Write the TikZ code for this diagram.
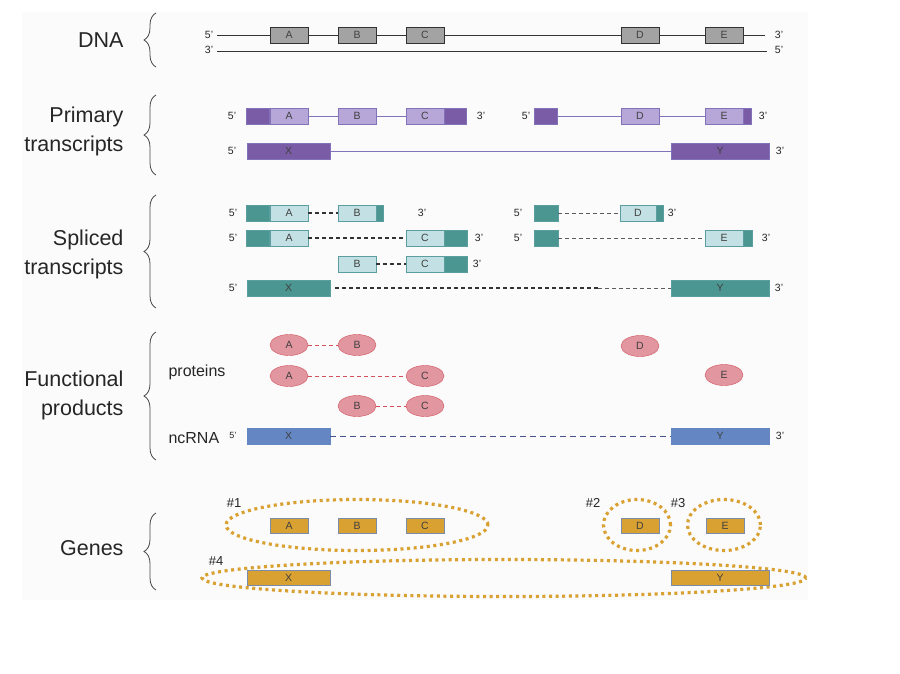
\documentclass[tikz,border=0pt]{standalone}
\usepackage{fontspec}
\setmainfont{Liberation Sans}
\usetikzlibrary{positioning,shapes.geometric,decorations.pathreplacing}
\definecolor{paper}{HTML}{FBFBFB}
\definecolor{labeltext}{HTML}{262626}
\definecolor{boxtext}{HTML}{404040}
\definecolor{dnagray}{HTML}{A3A3A3}
\definecolor{dnaline}{HTML}{333333}
\definecolor{purpledark}{HTML}{7A5CA6}
\definecolor{purplelight}{HTML}{B6A7D8}
\definecolor{purpleedge}{HTML}{8272BA}
\definecolor{tealdark}{HTML}{4B9691}
\definecolor{teallight}{HTML}{C3E1E4}
\definecolor{tealedge}{HTML}{5A9EA0}
\definecolor{protfill}{HTML}{E196A0}
\definecolor{protedge}{HTML}{D2505A}
\definecolor{ncblue}{HTML}{6487C3}
\definecolor{ncdash}{HTML}{46528C}
\definecolor{geneorange}{HTML}{D9A032}
\definecolor{geneedge}{HTML}{7A8CAA}
\begin{document}
\begin{tikzpicture}[x=1pt,y=-1pt,
    box/.style={draw,rectangle,minimum width=38pt,minimum height=16pt,inner sep=0pt,
      font=\fontsize{10.5}{10.5}\selectfont,text=boxtext},
    dnabox/.style={box,fill=dnagray,draw=dnaline,line width=0.9pt},
    plight/.style={box,fill=purplelight,draw=purpleedge},
    pdark/.style={box,fill=purpledark,draw=purpleedge},
    tlight/.style={box,fill=teallight,draw=tealedge},
    tdark/.style={box,fill=tealdark,draw=tealedge},
    prot/.style={ellipse,draw=protedge,fill=protfill,minimum width=38pt,minimum height=21pt,
      inner sep=0pt,font=\fontsize{10.5}{10.5}\selectfont,text=boxtext},
    ncbox/.style={box,fill=ncblue,draw=ncblue},
    genebox/.style={box,fill=geneorange,draw=geneedge,minimum height=15pt},
    ring/.style={ellipse,draw=geneorange,line width=3.2pt,dash pattern=on 3pt off 3.6pt,inner sep=0pt},
    prime/.style={font=\fontsize{10.5}{10.5}\selectfont,text=labeltext},
    heading/.style={anchor=east,align=right,font=\fontsize{21.5}{29}\selectfont,text=labeltext},
    sub/.style={anchor=west,font=\fontsize{16}{16}\selectfont,text=labeltext},
    tag/.style={font=\fontsize{13}{13}\selectfont,text=labeltext},
    curly/.style={draw=dnaline!90,line width=0.8pt,decorate,decoration={brace,amplitude=12pt}},
    thin/.style={line width=0.6pt},
    splice/.style={draw=dnaline,line width=1.1pt,dash pattern=on 4pt off 3pt},
    splicethin/.style={draw=dnaline!80,line width=0.6pt,dash pattern=on 4pt off 3pt}]
  \useasboundingbox (0,0) rectangle (900,673);
  \fill[paper] (22,12) rectangle (808,600);

  % row headings and braces
  \node[heading] (hdna) at (127,40) {DNA};
  \node[heading] (hpri) at (127,131) {Primary\\transcripts};
  \node[heading] (hspl) at (127,254) {Spliced\\transcripts};
  \node[heading] (hfun) at (127,395) {Functional\\products};
  \node[heading] (hgen) at (127,548) {Genes};
  \draw[curly] (156,67) -- (156,13);
  \draw[curly] (156,175) -- (156,95);
  \draw[curly] (156,308) -- (156,195);
  \draw[curly] (156,460) -- (156,332);
  \draw[curly] (156,590) -- (156,513);

  % DNA
  \coordinate (d5) at (217,35);
  \coordinate (d3) at (765,35);
  \coordinate (b3) at (217,51);
  \coordinate (b5) at (767,51);
  \foreach \n/\x in {A/289,B/357,C/425,D/640,E/724}
    \node[dnabox] (dna\n) at (\x,35) {\n};
  \draw[dnaline,thin] (d5) -- (dnaA) -- (dnaB) -- (dnaC) -- (dnaD) -- (dnaE) -- (d3);
  \draw[dnaline,thin] (b3) -- (b5);
  \node[prime] (l1) at (209,35) {5'};
  \node[prime] (l2) at (209,50) {3'};
  \node[prime] (l3) at (779,35) {3'};
  \node[prime] (l4) at (779,50) {5'};

  % primary transcripts
  \node[plight] (pA) at (289,116) {A};
  \node[pdark,anchor=east,minimum width=23pt] (pA5) at (pA.west) {};
  \node[plight] (pB) at (357,116) {B};
  \node[plight] (pC) at (425,116) {C};
  \node[pdark,anchor=west,minimum width=22pt] (pC3) at (pC.east) {};
  \node[pdark,minimum width=23pt] (pR5) at (546,116) {};
  \node[plight] (pD) at (640,116) {D};
  \node[plight] (pE) at (724,116) {E};
  \node[pdark,anchor=west,minimum width=8pt] (pE3) at (pE.east) {};
  \draw[purpleedge,thin] (pA) -- (pB) -- (pC);
  \draw[purpleedge,thin] (pR5) -- (pD) -- (pE);
  \node[pdark,minimum width=83pt] (pX) at (288.5,151) {X};
  \node[pdark,minimum width=98pt] (pY) at (720,151) {Y};
  \draw[purpleedge,line width=0.9pt] (pX) -- (pY);
  \node[prime] (l5) at (232,116) {5'};
  \node[prime] (l6) at (481,116) {3'};
  \node[prime] (l7) at (526,116) {5'};
  \node[prime] (l8) at (763,116) {3'};
  \node[prime] (l9) at (232,151) {5'};
  \node[prime] (l10) at (780,151) {3'};

  % spliced transcripts
  \node[tlight] (sA1) at (289,213) {A};
  \node[tdark,anchor=east,minimum width=23pt] (sA15) at (sA1.west) {};
  \node[tlight] (sB1) at (357,213) {B};
  \node[tdark,anchor=west,minimum width=7pt] (sB13) at (sB1.east) {};
  \draw[splice] (sA1) -- (sB1);
  \node[tlight] (sA2) at (289,238) {A};
  \node[tdark,anchor=east,minimum width=23pt] (sA25) at (sA2.west) {};
  \node[tlight] (sC2) at (425,238) {C};
  \node[tdark,anchor=west,minimum width=23pt] (sC23) at (sC2.east) {};
  \draw[splice] (sA2) -- (sC2);
  \node[tlight] (sB3) at (357,264) {B};
  \node[tlight] (sC3) at (425,264) {C};
  \node[tdark,anchor=west,minimum width=23pt] (sC33) at (sC3.east) {};
  \draw[splice] (sB3) -- (sC3);
  \node[tdark,minimum width=24pt] (sR15) at (546,213) {};
  \node[tlight,minimum width=36pt] (sD) at (638,213) {D};
  \node[tdark,anchor=west,minimum width=7pt] (sD3) at (sD.east) {};
  \draw[splicethin] (sR15) -- (sD);
  \node[tdark,minimum width=24pt] (sR25) at (546,238) {};
  \node[tlight] (sE) at (724,238) {E};
  \node[tdark,anchor=west,minimum width=9pt] (sE3) at (sE.east) {};
  \draw[splicethin] (sR25) -- (sE);
  \node[tdark,minimum width=83pt] (sX) at (288.5,288) {X};
  \node[tdark,minimum width=98pt] (sY) at (720,288) {Y};
  \coordinate (smid) at (598,288);
  \draw[splice] (sX.east) ++(5,0) coordinate (sXgap) (sXgap) -- (smid);
  \draw[splicethin] (smid) -- (sY);
  \node[prime] (l11) at (233,213) {5'};
  \node[prime] (l12) at (422,213) {3'};
  \node[prime] (l13) at (233,238) {5'};
  \node[prime] (l14) at (479,238) {3'};
  \node[prime] (l15) at (477,264) {3'};
  \node[prime] (l16) at (233,288) {5'};
  \node[prime] (l17) at (518,213) {5'};
  \node[prime] (l18) at (672,213) {3'};
  \node[prime] (l19) at (518,238) {5'};
  \node[prime] (l20) at (766,238) {3'};
  \node[prime] (l21) at (779,288) {3'};

  % functional products
  \node[sub] (fprot) at (165,372) {proteins};
  \node[sub] (fnc) at (165,438) {ncRNA};
  \node[prot] (fA1) at (289,345) {A};
  \node[prot] (fB1) at (357,345) {B};
  \node[prot] (fA2) at (289,376) {A};
  \node[prot] (fC2) at (425,376) {C};
  \node[prot] (fB3) at (357,406) {B};
  \node[prot] (fC3) at (425,406) {C};
  \node[prot] (fD) at (640,346) {D};
  \node[prot] (fE) at (724,375) {E};
  \draw[protedge,line width=0.9pt,dash pattern=on 4pt off 3pt] (fA1) -- (fB1);
  \draw[protedge,thin,dash pattern=on 4pt off 3pt] (fA2) -- (fC2);
  \draw[protedge,line width=0.9pt,dash pattern=on 4pt off 3pt] (fB3) -- (fC3);
  \node[ncbox,minimum width=83pt] (nX) at (288.5,436) {X};
  \node[ncbox,minimum width=98pt] (nY) at (720,436) {Y};
  \draw[ncdash,thin,dash pattern=on 6pt off 4pt] (nX) -- (nY);
  \node[prime,font=\fontsize{9}{9}\selectfont] (l22) at (233,435) {5'};
  \node[prime] (l23) at (780,436) {3'};

  % genes
  \node[ring,minimum width=262pt,minimum height=51pt] (ring1) at (357,525) {};
  \node[ring,minimum width=67pt,minimum height=51pt] (ring2) at (637,525) {};
  \node[ring,minimum width=73pt,minimum height=51pt] (ring3) at (724,525) {};
  \node[ring,minimum width=604pt,minimum height=37pt] (ring4) at (504,578) {};
  \foreach \n/\x in {A/289,B/357,C/425,D/640,E/725}
    \node[genebox] (g\n) at (\x,526) {\n};
  \node[genebox,minimum width=83pt] (gX) at (288.5,578) {X};
  \node[genebox,minimum width=98pt] (gY) at (720,578) {Y};
  \node[tag] (t1) at (234,503) {\#1};
  \node[tag] (t2) at (593,503) {\#2};
  \node[tag] (t3) at (678,503) {\#3};
  \node[tag] (t4) at (216,561) {\#4};
\end{tikzpicture}
\end{document}
